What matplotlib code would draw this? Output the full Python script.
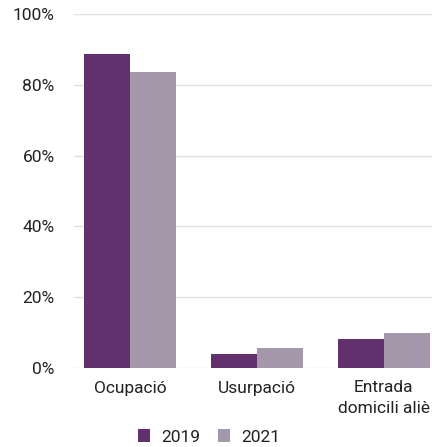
import matplotlib
matplotlib.use("Agg")
import matplotlib.pyplot as plt
import numpy as np
from matplotlib.ticker import FuncFormatter

categories = ["Ocupació", "Usurpació", "Entrada\ndomicili aliè"]
years = ["2019", "2021"]
values_2019 = [88.7, 4.0, 8.2]
values_2021 = [83.6, 5.6, 9.9]
yticks = [0, 20, 40, 60, 80, 100]
colors = ["#63306e", "#a698ab"]

plt.rcParams['font.family'] = ['Roboto', 'DejaVu Sans']

fig = plt.figure(figsize=(4.32, 4.47), dpi=100)
ax = fig.add_axes([74/432, 1 - 368/447, 1 - 74/432, (368-14)/447])

x = np.arange(len(categories))
w = 0.362
ax.bar(x - w/2, values_2019, w, color=colors[0], label=years[0], zorder=3)
ax.bar(x + w/2, values_2021, w, color=colors[1], label=years[1], zorder=3)

ax.set_ylim(0, 100)
ax.set_xlim(-0.44, 2.38)
ax.set_yticks(yticks)
ax.yaxis.set_major_formatter(FuncFormatter(lambda v, p: f"{int(v)}%"))
ax.grid(axis='y', color='#e0e0e0', linewidth=1, zorder=0)
for s in ax.spines.values():
    s.set_visible(False)
ax.tick_params(axis='y', length=0, pad=14, labelsize=12.5, labelcolor='#222222')
ax.tick_params(axis='x', length=0, pad=9, labelsize=12.5, labelcolor='#222222')
ax.set_xticks(x)
ax.set_xticklabels(categories, linespacing=1.45)

fig.legend(loc='center', bbox_to_anchor=(0.484, 1 - 437/447), ncol=2, frameon=False,
           fontsize=12.5, handlelength=0.7, handleheight=0.7, handletextpad=0.63,
           columnspacing=1.05, labelcolor='#222222', borderpad=0, borderaxespad=0)

fig.savefig("out.png", dpi=100)
